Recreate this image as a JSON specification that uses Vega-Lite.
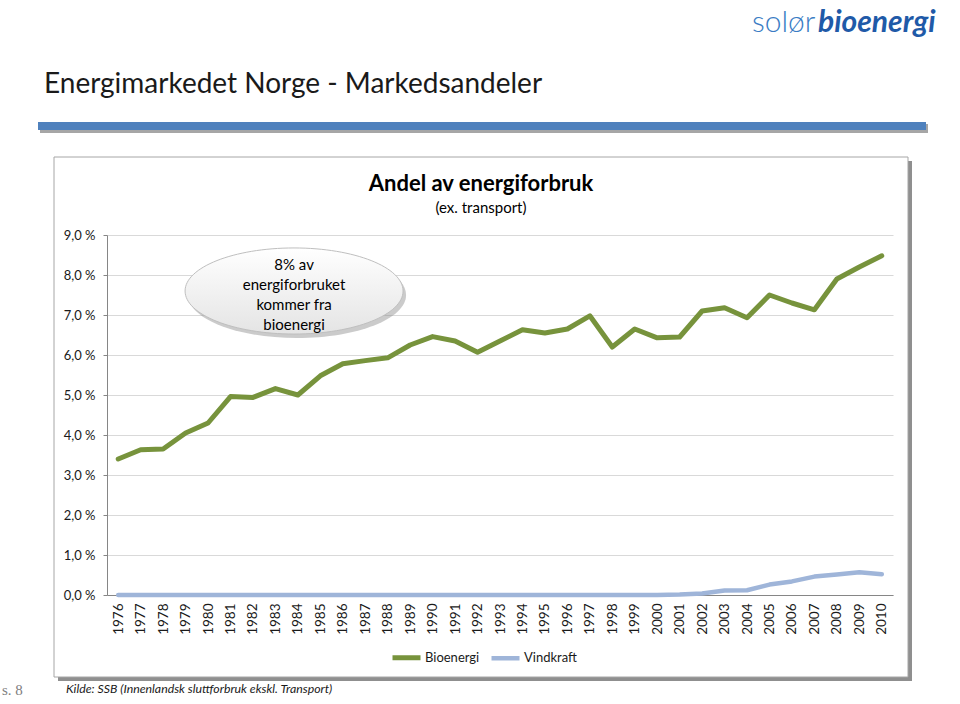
{
  "$schema": "https://vega.github.io/schema/vega-lite/v6.json",
  "width": 786,
  "height": 360,
  "autosize": {"type": "none"},
  "padding": {"left": 107, "top": 235, "right": 67, "bottom": 109},
  "background": "white",
  "config": {"view": {"stroke": null}, "font": "Lato"},
  "layer": [
    {
      "data": {"values": [{}]},
      "mark": {"type": "rect", "x": -67, "x2": 821, "y": -111, "y2": -102, "fill": "#a6a6a6"},
      "encoding": {}
    },
    {
      "data": {"values": [{}]},
      "mark": {"type": "rect", "x": -69, "x2": 819, "y": -113, "y2": -105, "fill": "#4f81bd"},
      "encoding": {}
    },
    {
      "data": {"values": [{}]},
      "mark": {"type": "rect", "x": 801, "x2": 805, "y": -74, "y2": 446, "fill": "#8f8f8f"},
      "encoding": {}
    },
    {
      "data": {"values": [{}]},
      "mark": {"type": "rect", "x": -49, "x2": 805, "y": 442, "y2": 446, "fill": "#8f8f8f"},
      "encoding": {}
    },
    {
      "data": {"values": [{}]},
      "mark": {"type": "rect", "x": -53, "x2": 801, "y": -78, "y2": 442, "fill": "transparent", "stroke": "#a6a6a6", "strokeWidth": 1},
      "encoding": {}
    },
    {
      "data": {"values": [{}]},
      "mark": {"type": "text", "x": -63, "y": -142, "text": "Energimarkedet Norge - Markedsandeler", "align": "left", "baseline": "alphabetic", "fontSize": 28, "font": "Lato", "color": "#1a1a1a"},
      "encoding": {}
    },
    {
      "data": {"values": [{}]},
      "mark": {"type": "text", "x": 645, "y": -203, "text": "solør", "align": "left", "baseline": "alphabetic", "fontSize": 30, "font": "Lato", "fontWeight": 300, "color": "#3a7cc4"},
      "encoding": {}
    },
    {
      "data": {"values": [{}]},
      "mark": {"type": "text", "x": 711, "y": -203, "text": "bioenergi", "align": "left", "baseline": "alphabetic", "fontSize": 30, "font": "Lato", "fontWeight": "bold", "fontStyle": "italic", "color": "#1f5aa8"},
      "encoding": {}
    },
    {
      "data": {"values": [{}]},
      "mark": {"type": "text", "x": 374, "y": -44, "text": "Andel av energiforbruk", "align": "center", "baseline": "alphabetic", "fontSize": 22, "font": "Lato", "fontWeight": "bold", "color": "#000000"},
      "encoding": {}
    },
    {
      "data": {"values": [{}]},
      "mark": {"type": "text", "x": 374, "y": -22, "text": "(ex. transport)", "align": "center", "baseline": "alphabetic", "fontSize": 15, "font": "Lato", "color": "#000000"},
      "encoding": {}
    },
    {
      "data": {"values": [{}]},
      "mark": {"type": "text", "x": -105, "y": 460, "text": "s. 8", "align": "left", "baseline": "alphabetic", "fontSize": 15, "font": "Liberation Serif", "color": "#7f7f7f"},
      "encoding": {}
    },
    {
      "data": {"values": [{}]},
      "mark": {"type": "text", "x": -41, "y": 458, "text": "Kilde: SSB (Innenlandsk sluttforbruk ekskl. Transport)", "align": "left", "baseline": "alphabetic", "fontSize": 12.3, "font": "Lato", "fontStyle": "italic", "color": "#1a1a1a"},
      "encoding": {}
    },
    {
      "data": {
        "values": [
          {"year": 1976, "serie": "Bioenergi", "value": 3.40},
          {"year": 1977, "serie": "Bioenergi", "value": 3.63},
          {"year": 1978, "serie": "Bioenergi", "value": 3.65},
          {"year": 1979, "serie": "Bioenergi", "value": 4.05},
          {"year": 1980, "serie": "Bioenergi", "value": 4.30},
          {"year": 1981, "serie": "Bioenergi", "value": 4.96},
          {"year": 1982, "serie": "Bioenergi", "value": 4.94},
          {"year": 1983, "serie": "Bioenergi", "value": 5.16},
          {"year": 1984, "serie": "Bioenergi", "value": 5.00},
          {"year": 1985, "serie": "Bioenergi", "value": 5.48},
          {"year": 1986, "serie": "Bioenergi", "value": 5.78},
          {"year": 1987, "serie": "Bioenergi", "value": 5.86},
          {"year": 1988, "serie": "Bioenergi", "value": 5.93},
          {"year": 1989, "serie": "Bioenergi", "value": 6.25},
          {"year": 1990, "serie": "Bioenergi", "value": 6.46},
          {"year": 1991, "serie": "Bioenergi", "value": 6.35},
          {"year": 1992, "serie": "Bioenergi", "value": 6.07},
          {"year": 1993, "serie": "Bioenergi", "value": 6.35},
          {"year": 1994, "serie": "Bioenergi", "value": 6.63},
          {"year": 1995, "serie": "Bioenergi", "value": 6.55},
          {"year": 1996, "serie": "Bioenergi", "value": 6.65},
          {"year": 1997, "serie": "Bioenergi", "value": 6.98},
          {"year": 1998, "serie": "Bioenergi", "value": 6.20},
          {"year": 1999, "serie": "Bioenergi", "value": 6.65},
          {"year": 2000, "serie": "Bioenergi", "value": 6.43},
          {"year": 2001, "serie": "Bioenergi", "value": 6.45},
          {"year": 2002, "serie": "Bioenergi", "value": 7.10},
          {"year": 2003, "serie": "Bioenergi", "value": 7.18},
          {"year": 2004, "serie": "Bioenergi", "value": 6.93},
          {"year": 2005, "serie": "Bioenergi", "value": 7.50},
          {"year": 2006, "serie": "Bioenergi", "value": 7.30},
          {"year": 2007, "serie": "Bioenergi", "value": 7.13},
          {"year": 2008, "serie": "Bioenergi", "value": 7.90},
          {"year": 2009, "serie": "Bioenergi", "value": 8.20},
          {"year": 2010, "serie": "Bioenergi", "value": 8.48},
          {"year": 1976, "serie": "Vindkraft", "value": 0},
          {"year": 1977, "serie": "Vindkraft", "value": 0},
          {"year": 1978, "serie": "Vindkraft", "value": 0},
          {"year": 1979, "serie": "Vindkraft", "value": 0},
          {"year": 1980, "serie": "Vindkraft", "value": 0},
          {"year": 1981, "serie": "Vindkraft", "value": 0},
          {"year": 1982, "serie": "Vindkraft", "value": 0},
          {"year": 1983, "serie": "Vindkraft", "value": 0},
          {"year": 1984, "serie": "Vindkraft", "value": 0},
          {"year": 1985, "serie": "Vindkraft", "value": 0},
          {"year": 1986, "serie": "Vindkraft", "value": 0},
          {"year": 1987, "serie": "Vindkraft", "value": 0},
          {"year": 1988, "serie": "Vindkraft", "value": 0},
          {"year": 1989, "serie": "Vindkraft", "value": 0},
          {"year": 1990, "serie": "Vindkraft", "value": 0},
          {"year": 1991, "serie": "Vindkraft", "value": 0},
          {"year": 1992, "serie": "Vindkraft", "value": 0},
          {"year": 1993, "serie": "Vindkraft", "value": 0},
          {"year": 1994, "serie": "Vindkraft", "value": 0},
          {"year": 1995, "serie": "Vindkraft", "value": 0},
          {"year": 1996, "serie": "Vindkraft", "value": 0},
          {"year": 1997, "serie": "Vindkraft", "value": 0},
          {"year": 1998, "serie": "Vindkraft", "value": 0},
          {"year": 1999, "serie": "Vindkraft", "value": 0},
          {"year": 2000, "serie": "Vindkraft", "value": 0},
          {"year": 2001, "serie": "Vindkraft", "value": 0.01},
          {"year": 2002, "serie": "Vindkraft", "value": 0.04},
          {"year": 2003, "serie": "Vindkraft", "value": 0.11},
          {"year": 2004, "serie": "Vindkraft", "value": 0.12},
          {"year": 2005, "serie": "Vindkraft", "value": 0.26},
          {"year": 2006, "serie": "Vindkraft", "value": 0.34},
          {"year": 2007, "serie": "Vindkraft", "value": 0.46},
          {"year": 2008, "serie": "Vindkraft", "value": 0.51},
          {"year": 2009, "serie": "Vindkraft", "value": 0.57},
          {"year": 2010, "serie": "Vindkraft", "value": 0.52}
        ]
      },
      "mark": {"type": "line", "strokeJoin": "round", "strokeCap": "round"},
      "encoding": {
        "x": {
          "field": "year",
          "type": "quantitative",
          "scale": {"domain": [1975.5, 2010.5], "nice": false, "zero": false},
          "axis": {
            "title": null,
            "values": [1976, 1977, 1978, 1979, 1980, 1981, 1982, 1983, 1984, 1985, 1986, 1987, 1988, 1989, 1990, 1991, 1992, 1993, 1994, 1995, 1996, 1997, 1998, 1999, 2000, 2001, 2002, 2003, 2004, 2005, 2006, 2007, 2008, 2009, 2010],
            "tickCount": 200,
            "format": "d",
            "labelAngle": -90,
            "labelAlign": "right",
            "labelBaseline": "middle",
            "ticks": false,
            "labelPadding": 8,
            "labelFontSize": 13.5,
            "labelFont": "Lato",
            "labelColor": "#1a1a1a",
            "labelOverlap": false,
            "labelFlush": false,
            "domainColor": "#868686",
            "grid": false
          }
        },
        "y": {
          "field": "value",
          "type": "quantitative",
          "scale": {"domain": [0, 9], "nice": false},
          "axis": {
            "title": null,
            "values": [0, 1, 2, 3, 4, 5, 6, 7, 8, 9],
            "tickCount": 100,
            "labelOverlap": false,
            "labelFlush": false,
            "labelExpr": "replace(format(datum.value, '.1f'), '.', ',') + ' %'",
            "tickSize": 4,
            "tickColor": "#868686",
            "domainColor": "#868686",
            "gridColor": "#d9d9d9",
            "labelPadding": 8,
            "labelFontSize": 13,
            "labelFont": "Lato",
            "labelColor": "#1a1a1a"
          }
        },
        "color": {
          "field": "serie",
          "type": "nominal",
          "scale": {"domain": ["Bioenergi", "Vindkraft"], "range": ["#77933c", "#9fb5d9"]},
          "legend": {
            "title": null,
            "orient": "none",
            "legendX": 283,
            "legendY": 406,
            "direction": "horizontal",
            "symbolType": "stroke",
            "symbolSize": 784,
            "symbolStrokeWidth": 5,
            "labelFontSize": 13,
            "labelFont": "Lato",
            "labelColor": "#1a1a1a",
            "labelOffset": 2,
            "columnPadding": 2
          }
        },
        "strokeWidth": {
          "field": "serie",
          "type": "nominal",
          "scale": {"domain": ["Bioenergi", "Vindkraft"], "range": [5, 4.5]},
          "legend": null
        }
      }
    },
    {
      "data": {"values": [{}]},
      "mark": {"type": "point", "shape": "M-1,0A1,0.395,0,1,1,1,0A1,0.395,0,1,1,-1,0Z", "size": 47524, "filled": true, "fill": "#8c8c8c", "opacity": 0.45, "strokeWidth": 0, "xOffset": 3, "yOffset": 4},
      "encoding": {
        "x": {"datum": 1983.83, "type": "quantitative"},
        "y": {"datum": 7.6, "type": "quantitative"}
      }
    },
    {
      "data": {"values": [{}]},
      "mark": {
        "type": "point",
        "shape": "M-1,0A1,0.395,0,1,1,1,0A1,0.395,0,1,1,-1,0Z",
        "size": 47524,
        "filled": true,
        "opacity": 1,
        "fill": {"gradient": "linear", "x1": 0, "y1": 0, "x2": 0, "y2": 1, "stops": [{"offset": 0, "color": "#ffffff"}, {"offset": 1, "color": "#e4e4e4"}]},
        "stroke": "#bfbfbf",
        "strokeWidth": 1
      },
      "encoding": {
        "x": {"datum": 1983.83, "type": "quantitative"},
        "y": {"datum": 7.6, "type": "quantitative"}
      }
    },
    {
      "data": {"values": [{}]},
      "mark": {"type": "text", "text": ["8% av", "energiforbruket", "kommer fra", "bioenergi"], "align": "center", "baseline": "alphabetic", "lineHeight": 20, "fontSize": 15, "font": "Lato", "color": "#000000"},
      "encoding": {
        "x": {"datum": 1983.83, "type": "quantitative"},
        "y": {"datum": 8.125, "type": "quantitative"}
      }
    }
  ]
}
